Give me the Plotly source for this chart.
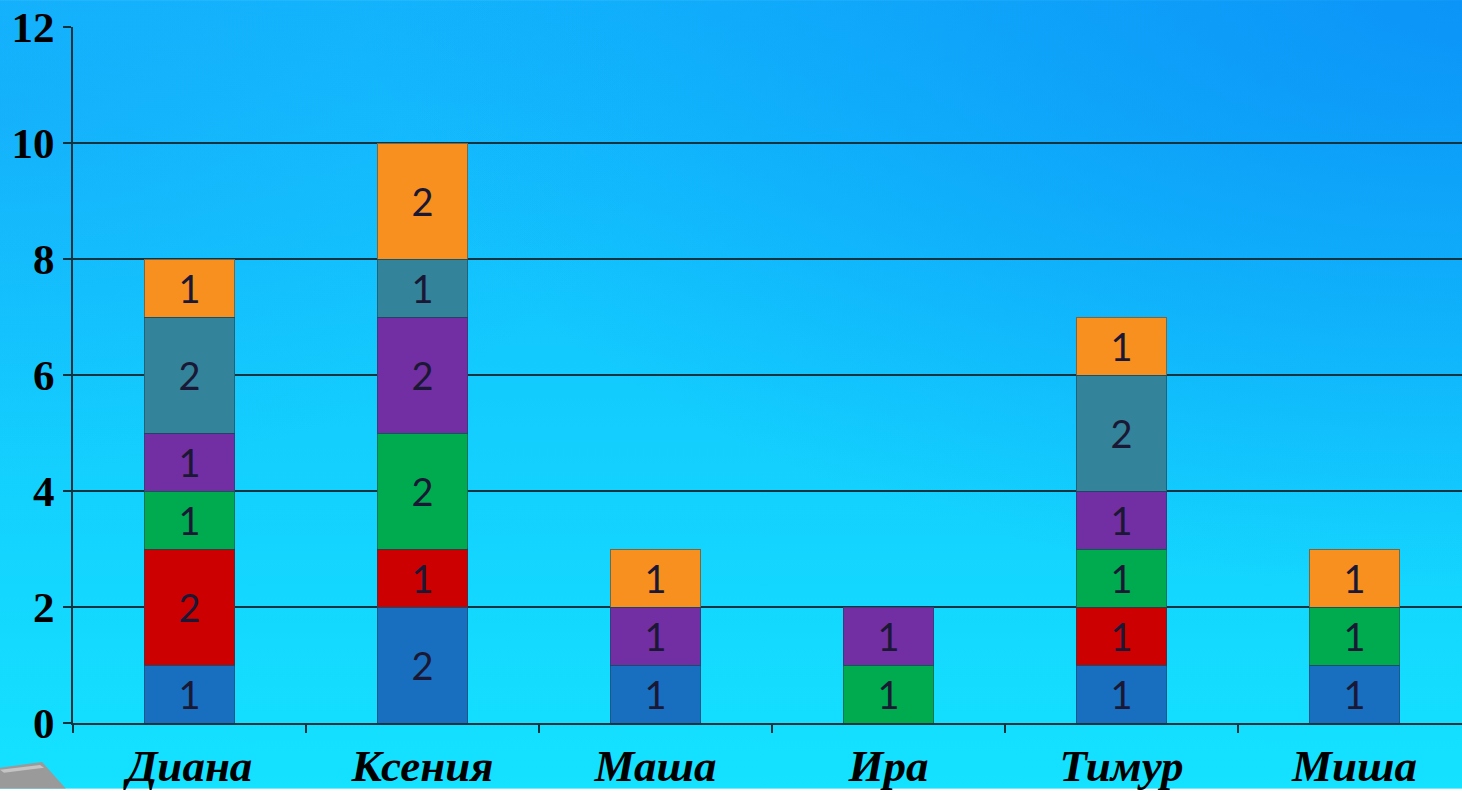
import base64
import plotly.graph_objects as go

# ---- data ----
names = ["Диана", "Ксения", "Маша", "Ира", "Тимур", "Миша"]
s1_blue = [1, 2, 1, 0, 1, 1]
s2_red = [2, 1, 0, 0, 1, 0]
s3_green = [1, 2, 0, 1, 1, 1]
s4_purple = [1, 2, 1, 1, 1, 0]
s5_teal = [2, 1, 0, 0, 2, 0]
s6_orange = [1, 2, 1, 0, 1, 1]
y_ticks = [0, 2, 4, 6, 8, 10, 12]

series = [
    ("Ряд 1", s1_blue, "#186fbf"),
    ("Ряд 2", s2_red, "#cc0000"),
    ("Ряд 3", s3_green, "#00ab4f"),
    ("Ряд 4", s4_purple, "#722fa3"),
    ("Ряд 5", s5_teal, "#33839a"),
    ("Ряд 6", s6_orange, "#f7901f"),
]

W, H = 1462, 791
L, R, T, B = 73, 0, 27, 66
pw, ph = W - L - R, H - T - B

# background gradient (plus the grey corner shape of the slide) as an SVG image
svg = f'''<svg xmlns="http://www.w3.org/2000/svg" width="{W}" height="{H}" viewBox="0 0 {W} {H}" preserveAspectRatio="none">
<defs>
<linearGradient id="v" x1="0" y1="0" x2="0" y2="1">
<stop offset="0" stop-color="#12b6fd"/>
<stop offset="1" stop-color="#14e2ff"/>
</linearGradient>
<radialGradient id="r" cx="1" cy="0" r="0.75" gradientUnits="objectBoundingBox">
<stop offset="0" stop-color="#0a8cf6" stop-opacity="0.8"/>
<stop offset="1" stop-color="#0a8cf6" stop-opacity="0"/>
</radialGradient>
<radialGradient id="l" cx="0" cy="0.15" r="0.45" gradientUnits="objectBoundingBox">
<stop offset="0" stop-color="#1a9ef8" stop-opacity="0.35"/>
<stop offset="1" stop-color="#1a9ef8" stop-opacity="0"/>
</radialGradient>
</defs>
<rect width="{W}" height="{H}" fill="url(#v)"/>
<rect width="{W}" height="{H}" fill="url(#r)"/>
<rect width="{W}" height="{H}" fill="url(#l)"/>
<polygon points="0,770 42,764 66,791 0,791" fill="#9a9a9a"/>
<polygon points="0,772 40,767 44,770 4,775" fill="#c4c4c4"/>
</svg>'''
src = "data:image/svg+xml;base64," + base64.b64encode(svg.encode()).decode()

fig = go.Figure()
for nm, vals, col in series:
    yv = [v if v else None for v in vals]
    fig.add_trace(go.Bar(
        name=nm, x=names, y=yv,
        marker=dict(color=col, line=dict(color="rgba(20,70,90,0.55)", width=1)),
        text=[str(v) if v else "" for v in vals],
        textposition="inside", insidetextanchor="middle",
        constraintext="none",
        textfont=dict(family="Lato, Carlito, sans-serif", size=38, color="#1a1834"),
        hoverinfo="x+y",
    ))

fig.update_layout(
    width=W, height=H,
    margin=dict(l=L, r=R, t=T, b=B),
    barmode="stack", bargap=0.61,
    showlegend=False,
    paper_bgcolor="rgba(0,0,0,0)", plot_bgcolor="rgba(0,0,0,0)",
    images=[dict(source=src, xref="paper", yref="paper",
                 x=-L / pw, y=1 + T / ph, sizex=W / pw, sizey=H / ph,
                 xanchor="left", yanchor="top", sizing="stretch", layer="below")],
    xaxis=dict(
        range=[-0.5, pw / 233.0 - 0.5],
        tickson="boundaries", ticks="outside", ticklen=8, tickwidth=2, tickcolor="#14323c",
        showline=True, linecolor="#14323c", linewidth=2,
        showgrid=False,
        tickfont=dict(family="Liberation Serif, Times New Roman, serif", size=45, color="#000000",
                      weight="bold", style="italic"),
        ticklabelstandoff=2,
    ),
    yaxis=dict(
        range=[0, 12], tickvals=y_ticks, ticktext=[str(v) for v in y_ticks],
        ticks="outside", ticklen=8, tickwidth=2, tickcolor="#14323c",
        showline=True, linecolor="#14323c", linewidth=2,
        showgrid=True, gridcolor="#153440", gridwidth=2,
        zeroline=False,
        tickfont=dict(family="Liberation Serif, Times New Roman, serif", size=43, color="#000000",
                      weight="bold"),
        ticklabelstandoff=0,
    ),
)

fig.write_html("out.html", config={"displayModeBar": False},
               post_script="document.body.style.margin='0';document.body.style.overflow='hidden';")
